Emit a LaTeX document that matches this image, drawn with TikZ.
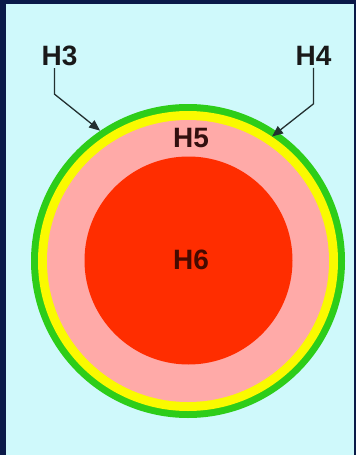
\documentclass[tikz,border=0pt]{standalone}
\usepackage{fontspec}
\setmainfont{Liberation Sans}
\usepackage{xcolor}
\usepackage{tikz}
\usetikzlibrary{arrows.meta,positioning,calc}

\definecolor{navy}{RGB}{10,26,72}
\definecolor{skyback}{RGB}{207,249,251}
\definecolor{layergreen}{RGB}{45,205,25}
\definecolor{layeryellow}{RGB}{250,250,0}
\definecolor{layerpink}{RGB}{255,170,168}
\definecolor{layerred}{RGB}{255,45,0}
\definecolor{pointergray}{RGB}{35,48,48}

\begin{document}
\begin{tikzpicture}[
    x=1pt, y=-1pt,
    layer/.style={circle, inner sep=0pt, draw=none},
    hlabel/.style={font=\fontsize{28}{28}\selectfont\bfseries, inner sep=2pt},
    pointer/.style={-{Triangle[length=11pt,width=9pt]}, draw=pointergray, line width=1.3pt}
]
    % Frame and background
    \fill[navy] (0,0) rectangle (356,455);
    \fill[skyback] (6,4) rectangle (354,455);
    \useasboundingbox (0,0) rectangle (356,455);

    % Layers, outside in
    \node[layer, fill=layergreen, minimum size=314pt] (ring3) at (188,261) {};
    \node[layer, fill=layeryellow, minimum size=300pt] (ring4) at (188,261) {};
    \node[layer, fill=layerpink, minimum size=282pt] (ring5) at (188,261) {};
    \node[layer, fill=layerred, minimum size=208pt] (core) at (188.5,260.5) {};

    % Labels
    \node[hlabel, text=black!90] (h3) at (59.5,56) {H3};
    \node[hlabel, text=black!90] (h4) at (313.5,56) {H4};
    \node[hlabel, text={rgb,255:red,50;green,15;blue,15}] (h5) at (191,138) {H5};
    \node[hlabel, text={rgb,255:red,70;green,10;blue,0}] (h6) at (191,260) {H6};

    % Arrows
    \draw[pointer] ([xshift=-5pt]h3.south) -- ++(0,26) -- (ring3.124);
    \draw[pointer] (h4.south) -- ++(0,36) -- (ring4.56);

\end{tikzpicture}
\end{document}
